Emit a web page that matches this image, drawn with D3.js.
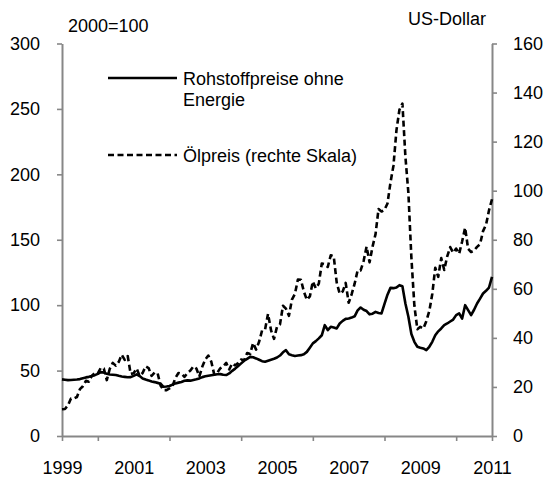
<!DOCTYPE html>
<html>
<head>
<meta charset="utf-8">
<script src="https://cdn.jsdelivr.net/npm/d3@7"></script>
<style>
  html, body { margin: 0; padding: 0; background: #fff; }
  svg text { font-family: "Liberation Sans", Arial, sans-serif; fill: #000; }
</style>
</head>
<body>
<svg id="chart" width="548" height="478"></svg>
<script>
// ---- data (monthly, Jan 1999 .. Jan 2011) ----
const startYear = 1999;
const yearLabels = ["1999", "2001", "2003", "2005", "2007", "2009", "2011"];
const leftTicks = [0, 50, 100, 150, 200, 250, 300];
const rightTicks = [0, 20, 40, 60, 80, 100, 120, 140, 160];
const commodityLabel = ["Rohstoffpreise ohne", "Energie"];
const oilLabel = "Ölpreis (rechte Skala)";
const leftUnit = "2000=100";
const rightUnit = "US-Dollar";

// Rohstoffpreise ohne Energie (left scale)
const commodity = [
  43.3, 43.0, 42.7, 42.8, 43.0, 43.2, 43.5, 44.2, 44.8, 45.2, 45.8, 46.5,
  47.5, 48.8, 48.5, 47.5, 47.0, 46.8, 46.6, 46.0, 45.5, 45.2, 44.9, 45.0,
  46.0, 47.1, 45.8, 44.0, 43.2, 42.5, 41.6, 41.2, 40.6, 40.0, 37.6, 37.8,
  38.2, 39.3, 40.2, 40.8, 41.3, 42.2, 42.5, 42.3, 42.8, 43.3, 44.0, 45.0,
  45.6, 46.0, 46.4, 46.8, 47.2, 47.3, 46.8, 46.6, 47.8, 49.8, 51.5, 53.5,
  55.5, 57.5, 59.0, 60.5, 60.2, 59.3, 58.3, 57.2, 56.7, 57.5, 58.3, 59.0,
  60.0, 61.5, 64.0, 65.6, 62.5, 61.8, 61.2, 61.5, 61.8, 62.5, 64.3, 67.5,
  70.8, 72.5, 74.6, 77.0, 84.7, 81.0, 83.5, 83.0, 82.2, 86.0, 88.0, 89.5,
  89.8, 90.5, 91.5, 96.0, 98.2, 96.5, 95.5, 93.0, 93.5, 94.9, 94.0, 93.7,
  101.0, 108.0, 113.2, 113.0, 113.5, 115.3, 114.5, 101.3, 91.1, 78.0, 72.0, 68.2,
  67.5, 66.9, 65.6, 68.2, 72.0, 77.0, 80.0, 82.2, 84.7, 86.0, 87.5, 89.0,
  92.4, 93.7, 89.8, 100.0, 96.2, 92.4, 96.5, 101.3, 105.0, 108.9, 111.0, 113.5,
  121.6
];

// Ölpreis in US-Dollar (right scale)
const oil = [
  10.9, 11.0, 12.5, 15.3, 15.3, 15.9, 19.1, 20.3, 22.5, 22.1, 24.6, 25.6,
  25.5, 27.8, 27.5, 22.8, 27.4, 29.8, 28.7, 30.2, 33.1, 31.0, 32.6, 25.3,
  25.6, 27.5, 24.5, 25.7, 28.4, 27.7, 24.5, 25.8, 25.7, 20.6, 18.7, 18.7,
  19.4, 20.3, 23.7, 25.7, 25.4, 24.1, 25.7, 26.7, 28.4, 27.5, 24.3, 28.3,
  31.2, 32.8, 30.3, 25.0, 25.8, 27.6, 28.4, 29.8, 27.1, 29.6, 28.8, 29.8,
  31.2, 30.9, 33.8, 33.4, 37.9, 35.2, 38.4, 43.0, 43.4, 49.8, 43.1, 39.6,
  44.5, 45.5, 53.1, 51.9, 49.0, 55.6, 57.9, 63.8, 63.7, 58.9, 55.5, 56.9,
  63.0, 60.2, 62.1, 70.3, 70.0, 68.9, 73.7, 73.2, 62.5, 58.0, 58.9, 62.4,
  54.3, 57.8, 62.1, 67.5, 67.5, 71.3, 77.2, 70.8, 77.2, 82.3, 92.5, 91.5,
  92.2, 94.8, 103.3, 110.2, 124.6, 133.0, 135.5, 113.9, 99.1, 72.8, 53.2, 43.5,
  44.5, 43.8, 46.8, 50.9, 57.9, 68.6, 64.9, 72.5, 67.7, 73.2, 77.0, 74.7,
  76.4, 74.3, 79.3, 84.9, 76.3, 75.0, 75.6, 77.1, 78.2, 83.5, 86.1, 92.0,
  96.5
];

// ---- layout ----
const svg = d3.select("#chart");
const L = 62, R = 492, T = 43.5, B = 436;
const axisColor = "#878787";
const FS = 18;

const nMonths = commodity.length - 1;
const x = d3.scaleLinear().domain([0, nMonths]).range([L, R]);
const yL = d3.scaleLinear().domain([0, 300]).range([B, T]);
const yR = d3.scaleLinear().domain([0, 160]).range([B, T]);

function styleAxis(g) {
  g.selectAll("path.domain").attr("stroke", axisColor).attr("stroke-width", 2);
  g.selectAll(".tick line").attr("stroke", axisColor).attr("stroke-width", 1.6);
  g.selectAll("text").attr("font-size", FS).attr("font-family", "Liberation Sans, Arial, sans-serif").attr("fill", "#000");
}

// left axis
svg.append("g").attr("transform", `translate(${L},0)`)
  .call(d3.axisLeft(yL).tickValues(leftTicks).tickSize(5).tickSizeOuter(0).tickPadding(17))
  .call(styleAxis);

// right axis
svg.append("g").attr("transform", `translate(${R},0)`)
  .call(d3.axisRight(yR).tickValues(rightTicks).tickSize(5).tickSizeOuter(0).tickPadding(16))
  .call(styleAxis);

// bottom axis: tick marks at even years + ends
const markMonths = [0];
for (let m = 12; m < nMonths; m += 24) markMonths.push(m);
markMonths.push(nMonths);
svg.append("g").attr("transform", `translate(0,${B})`)
  .call(d3.axisBottom(x).tickValues(markMonths).tickSize(5).tickSizeOuter(0).tickFormat(() => ""))
  .call(styleAxis);

// bottom axis labels at odd years
const labelMonths = yearLabels.map(y => (+y - startYear) * 12);
const lab = svg.append("g").attr("transform", `translate(0,${B})`)
  .call(d3.axisBottom(x).tickValues(labelMonths).tickSize(0).tickPadding(25.5)
    .tickFormat((d, i) => yearLabels[i]))
  .call(styleAxis);
lab.select("path.domain").remove();

// lines
const lineL = d3.line().x((d, i) => x(i)).y(d => yL(d));
const lineR = d3.line().x((d, i) => x(i)).y(d => yR(d));

svg.append("path").datum(commodity)
  .attr("d", lineL).attr("fill", "none").attr("stroke", "#000")
  .attr("stroke-width", 2.6).attr("stroke-linejoin", "round");

svg.append("path").datum(oil)
  .attr("d", lineR).attr("fill", "none").attr("stroke", "#000")
  .attr("stroke-width", 2.6).attr("stroke-dasharray", "6,3.5").attr("stroke-linejoin", "round");

// unit labels
svg.append("text").attr("x", 68).attr("y", 31.5).attr("font-size", FS).text(leftUnit);
svg.append("text").attr("x", 408).attr("y", 24.8).attr("font-size", FS).text(rightUnit);

// legend
svg.append("line").attr("x1", 108).attr("x2", 177).attr("y1", 78).attr("y2", 78)
  .attr("stroke", "#000").attr("stroke-width", 2.6);
svg.append("text").attr("x", 183).attr("y", 85).attr("font-size", FS).text(commodityLabel[0]);
svg.append("text").attr("x", 183).attr("y", 106).attr("font-size", FS).text(commodityLabel[1]);

svg.append("line").attr("x1", 108).attr("x2", 177).attr("y1", 155).attr("y2", 155)
  .attr("stroke", "#000").attr("stroke-width", 2.6).attr("stroke-dasharray", "6,3.5");
svg.append("text").attr("x", 183).attr("y", 161.5).attr("font-size", FS).text(oilLabel);
</script>
</body>
</html>
